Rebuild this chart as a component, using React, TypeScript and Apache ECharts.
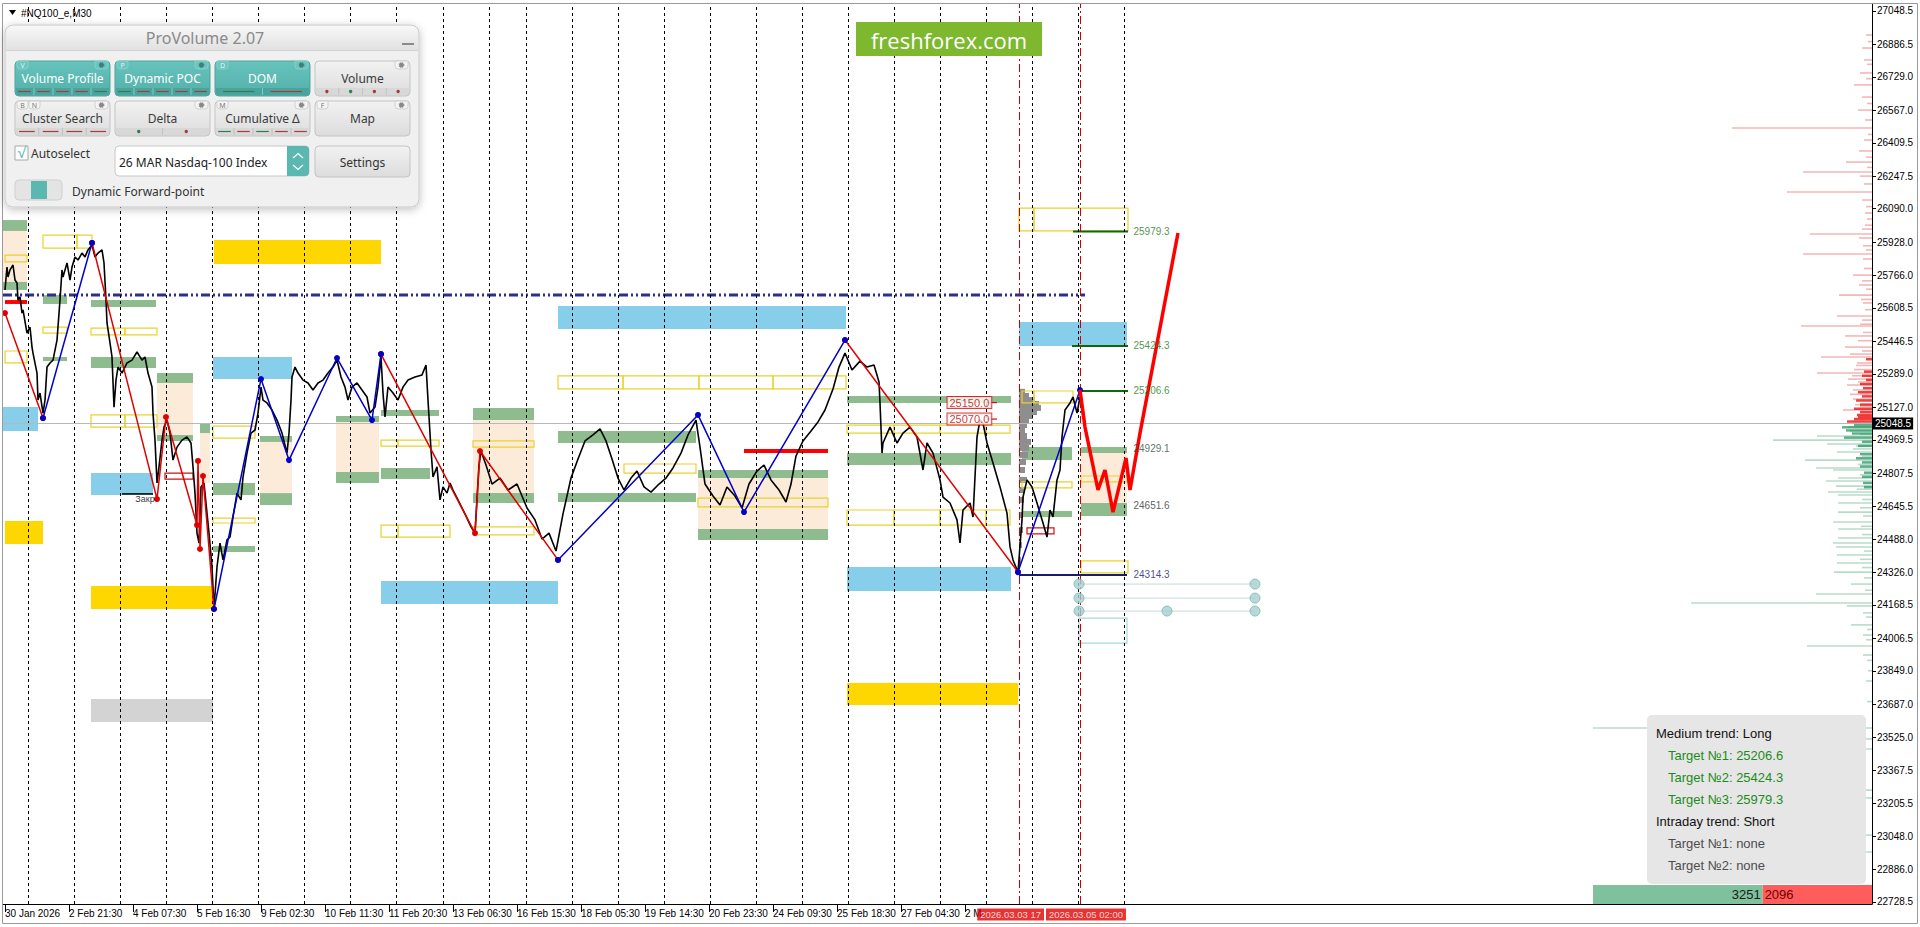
import React, { useEffect, useRef } from "react";
import * as echarts from "echarts";

// ---------- axes ----------
const X_MIN = 0;
const X_MAX = 1869;
const Y_MIN = 22718.8;
const Y_MAX = 27082.4;
const CURRENT_PRICE = 25048.5;

const priceTicks = [27048.5, 26886.5, 26729.0, 26567.0, 26409.5, 26247.5, 26090.0, 25928.0, 25766.0, 25608.5, 25446.5, 25289.0, 25127.0, 24969.5, 24807.5, 24645.5, 24488.0, 24326.0, 24168.5, 24006.5, 23849.0, 23687.0, 23525.0, 23367.5, 23205.5, 23048.0, 22886.0, 22728.5];
const timeLabelBars = [2, 66, 130, 194, 258, 322, 386, 450, 514, 578, 642, 706, 770, 834, 898, 962];
const timeLabels = ["30 Jan 2026", "2 Feb 21:30", "4 Feb 07:30", "5 Feb 16:30", "9 Feb 02:30", "10 Feb 11:30", "11 Feb 20:30", "13 Feb 06:30", "16 Feb 15:30", "18 Feb 05:30", "19 Feb 14:30", "20 Feb 23:30", "24 Feb 09:30", "25 Feb 18:30", "27 Feb 04:30", "2 M"];
const daySeparators = [25, 71, 117, 163, 209, 255, 301, 347, 393, 440, 486, 523, 569, 615, 661, 707, 753, 799, 845, 891, 937, 983, 1029, 1075, 1121];
const eventBars = [1016, 1077];
const eventLabels = ["2026.03.03 17", "2026.03.05 02:00"];

// ---------- price (M30 closes, bar index / price) ----------
const pricePath = [
  [2, 25696], [4, 25807], [5, 25759], [7, 25793], [10, 25817], [12, 25744], [14, 25730], [15, 25647], [17, 25662], [19, 25584], [20, 25599], [24, 25487], [27, 25516], [29, 25419], [30, 25390], [34, 25293], [35, 25162], [37, 25196], [40, 25099], [42, 25162], [44, 25322], [47, 25342], [50, 25356], [54, 25453], [57, 25647], [59, 25793], [60, 25759], [64, 25827], [67, 25744], [69, 25807], [72, 25856], [75, 25841], [79, 25875], [82, 25856], [85, 25890], [89, 25914], [92, 25856], [95, 25875], [99, 25890], [101, 25827], [103, 25647], [104, 25536], [107, 25439], [109, 25371], [111, 25128], [113, 25259], [115, 25322], [119, 25293], [124, 25342], [129, 25356], [134, 25395], [139, 25356], [142, 25371], [145, 25293], [149, 25225], [150, 25099], [152, 24968], [154, 24760], [156, 24838], [159, 24968], [161, 25031], [164, 25065], [167, 25002], [170, 24871], [174, 24934], [179, 24968], [184, 24983], [188, 24954], [190, 24838], [192, 24711], [194, 24517], [196, 24469], [198, 24741], [201, 24760], [204, 24614], [206, 24517], [209, 24353], [211, 24154], [214, 24353], [217, 24469], [220, 24387], [224, 24484], [227, 24498], [230, 24595], [234, 24711], [238, 24678], [240, 24789], [244, 24905], [248, 25002], [252, 25017], [255, 25099], [258, 25225], [260, 25162], [264, 25148], [269, 25114], [274, 25065], [279, 25002], [284, 24905], [286, 25002], [288, 25162], [289, 25274], [292, 25322], [295, 25293], [300, 25259], [305, 25245], [310, 25211], [315, 25245], [320, 25259], [325, 25293], [330, 25322], [334, 25356], [338, 25274], [342, 25225], [345, 25162], [349, 25225], [354, 25245], [359, 25211], [364, 25177], [367, 25099], [372, 25128], [375, 25225], [378, 25371], [380, 25196], [382, 25080], [385, 25225], [390, 25196], [395, 25162], [400, 25225], [405, 25259], [412, 25274], [419, 25284], [423, 25332], [425, 25162], [428, 24920], [430, 24789], [434, 24838], [437, 24678], [440, 24741], [444, 24711], [447, 24760],
  [450, 24726], [456, 24668], [462, 24610], [468, 24547], [472, 24517], [476, 24847], [478, 24915], [483, 24847], [489, 24755], [497, 24784], [505, 24726], [514, 24755], [524, 24639], [532, 24581], [539, 24488], [546, 24517], [553, 24430], [560, 24610], [568, 24784], [575, 24876], [582, 24964], [590, 24993], [597, 25022], [603, 24964], [609, 24876], [615, 24784], [621, 24726], [628, 24784], [634, 24818], [641, 24741], [648, 24716], [656, 24755], [663, 24784], [670, 24833], [678, 24905], [685, 24993], [693, 25065], [697, 24934], [702, 24755], [710, 24697], [717, 24653], [724, 24741], [732, 24697], [739, 24639], [746, 24755], [754, 24818], [761, 24847], [768, 24775], [776, 24726], [783, 24668], [788, 24755], [793, 24891], [800, 24964], [808, 25012], [815, 25056], [822, 25114], [830, 25216], [836, 25322], [842, 25390], [849, 25308], [857, 25351], [864, 25322], [871, 25332], [876, 25250],
  [877, 25148], [879, 24905], [880, 24954], [887, 25031], [894, 24954], [900, 25002], [907, 25031], [914, 24983], [920, 24823], [924, 24954], [930, 24905], [937, 24775], [940, 24692], [947, 24663], [954, 24581], [957, 24469], [960, 24629], [967, 24663], [970, 24595], [974, 24983], [977, 25065], [980, 25051], [984, 24954], [990, 24857], [997, 24741], [1004, 24614], [1007, 24450], [1010, 24387], [1015, 24328], [1019, 24581], [1020, 24692], [1024, 24775], [1029, 24741], [1034, 24663], [1037, 24614], [1040, 24566], [1044, 24498], [1047, 24629], [1050, 24595], [1054, 24775], [1057, 24823], [1059, 24983], [1062, 25114], [1067, 25148], [1070, 25177], [1074, 25099], [1077, 25177], [1080, 25080], [1082, 25048]
];

// ---------- zigzag runs ----------
const zigzagRed = [
  [[2, 25584], [40, 25075]],
  [[89, 25924], [154, 24682], [163, 25080], [194, 24556], [195, 24867], [197, 24440], [200, 24794], [211, 24149]],
  [[378, 25385], [472, 24517], [477, 24915], [555, 24387]],
  [[842, 25453], [1015, 24328]],
];
const zigzagBlue = [
  [[40, 25075], [89, 25924]],
  [[211, 24149], [258, 25264], [286, 24871], [334, 25366], [369, 25065], [378, 25385]],
  [[555, 24387], [695, 25090], [741, 24619], [842, 25453]],
  [[1015, 24328], [1077, 25211]],
];
const forecastPath = [[1077, 25211], [1082, 25031], [1095, 24726], [1102, 24823], [1110, 24619], [1123, 24881], [1127, 24726], [1137, 25002], [1175, 25972]];

// ---------- zones [barStart, barEnd, priceTop, priceBottom] ----------
const goldZones = [[211, 378, 25938, 25822], [2, 40, 24576, 24464], [88, 210, 24261, 24149], [844, 1015, 23790, 23684]];
const grayZones = [[88, 210, 23713, 23601]];
const blueZones = [[0, 35, 25128, 25012], [88, 150, 24808, 24702], [210, 289, 25371, 25264], [378, 555, 24285, 24173], [555, 843, 25618, 25507], [844, 1008, 24353, 24236], [1016, 1124, 25541, 25424]];
const greenZones = [
  [0, 24, 26035, 25982], [0, 24, 25735, 25696], [40, 64, 25671, 25628], [40, 64, 25371, 25351], [88, 153, 25647, 25613], [88, 153, 25371, 25318],
  [154, 190, 25293, 25245], [154, 190, 24993, 24964], [197, 207, 25051, 25002], [210, 252, 24760, 24702], [210, 252, 24455, 24425],
  [257, 289, 24988, 24959], [257, 289, 24711, 24653], [333, 376, 25085, 25056], [333, 376, 24813, 24760], [378, 436, 25114, 25085], [378, 427, 24833, 24779],
  [470, 531, 25124, 25065], [470, 531, 24711, 24663], [555, 693, 25012, 24954], [555, 693, 24711, 24668], [695, 825, 24823, 24784], [695, 825, 24537, 24484],
  [844, 1008, 25182, 25148], [844, 1008, 24905, 24847], [1019, 1069, 24934, 24871], [1019, 1069, 24624, 24595], [1078, 1124, 24934, 24905], [1078, 1124, 24663, 24600]
];
const peachZones = [[0, 24, 25982, 25735], [154, 190, 25245, 24993], [197, 207, 25002, 24760], [257, 289, 24959, 24711], [333, 376, 25056, 24813], [470, 531, 25065, 24711], [695, 825, 24784, 24537], [1078, 1124, 24905, 24663]];
const yellowBoxes = [
  [40, 74, 25962, 25899], [74, 89, 25962, 25899], [2, 24, 25865, 25832], [40, 64, 25516, 25487], [2, 24, 25400, 25342],
  [88, 122, 25511, 25478], [122, 154, 25511, 25478], [88, 122, 25090, 25031], [122, 154, 25090, 25031],
  [210, 252, 25036, 24978], [210, 252, 24590, 24566], [378, 395, 24968, 24939], [395, 436, 24968, 24939], [378, 395, 24556, 24498], [395, 447, 24556, 24498],
  [470, 531, 24964, 24934], [470, 531, 24547, 24508],
  [555, 620, 25279, 25216], [620, 696, 25279, 25216], [696, 770, 25279, 25216], [770, 843, 25279, 25216],
  [621, 693, 24852, 24808], [695, 825, 24687, 24644],
  [844, 891, 25041, 25002], [891, 937, 25041, 25002], [937, 983, 25041, 25002], [983, 1007, 25041, 25002],
  [844, 891, 24629, 24556], [891, 937, 24629, 24556], [937, 983, 24629, 24556], [983, 1007, 24629, 24556],
  [1019, 1031, 25206, 25148], [1031, 1070, 25206, 25148], [1019, 1069, 24765, 24736], [1078, 1124, 24794, 24765], [1078, 1125, 24382, 24324],
  [1016, 1031, 26093, 25982], [1031, 1125, 26093, 25982]
];
const redBars = [[2, 24, 25647, 25628], [741, 825, 24925, 24905]];
const redBoxes = [[1024, 1051, 24542, 24513], [162, 190, 24808, 24779]];
const tealBoxes = [[1076, 1124, 24105, 23984]];

// ---------- levels ----------
const keyLevel = 25671;
const keyLevelBars = [0, 1082];
const mediumTargets = [25206.6, 25424.3, 25979.3];
const targetStartBars = [1077, 1069, 1070];
const targetEndBar = 1125;
const extraLevels = [24929.1, 24651.6];
const supportLevel = 24314.3;
const supportBars = [1016, 1124];
const markedPrices = [25150.0, 25070.0];
const closeLevel = 24707;
const projectionRows = [24270, 24202, 24139];
const projectionBars = [1076, 1252];
const projectionCircles = [[1076, 24270], [1076, 24202], [1076, 24139], [1164, 24139], [1252, 24270], [1252, 24202], [1252, 24139]];

// ---------- volume profiles [length in bars, price] ----------
const profileSell = [
  [6, 26932], [4, 26900], [10, 26869], [8, 26811], [5, 26790], [12, 26748], [6, 26720], [18, 26690], [10, 26631], [5, 26600], [14, 26568], [7, 26520], [140, 26481], [4, 26450],
  [8, 26423], [13, 26370], [6, 26340], [26, 26316], [5, 26290], [69, 26268], [12, 26248], [8, 26210], [85, 26171], [10, 26132], [6, 26100], [7, 26069], [5, 26040], [7, 26010],
  [10, 25991], [62, 25967], [13, 25948], [9, 25910], [6, 25890], [69, 25870], [9, 25846], [8, 25800], [19, 25768], [10, 25740], [13, 25720], [6, 25700], [33, 25671], [11, 25650],
  [9, 25633], [7, 25600], [35, 25570], [10, 25550], [12, 25530], [71, 25521], [9, 25490], [27, 25473], [14, 25450], [27, 25419], [10, 25400], [22, 25385], [51, 25371], [15, 25342],
  [16, 25330], [18, 25310], [55, 25293], [20, 25280], [24, 25264], [14, 25250], [25, 25235], [19, 25211], [22, 25190], [19, 25167], [17, 25140], [12, 25130], [29, 25114]
];
const profileSellDense = [[6, 25360], [8, 25300], [10, 25280], [6, 25260], [12, 25240], [9, 25220], [14, 25200], [10, 25180], [16, 25160], [12, 25140], [18, 25120], [12, 25104], [15, 25090], [14, 25080], [18, 25070], [25, 25058]];
const profileBuy = [
  [24, 25031], [22, 25012], [12, 24997], [55, 24988], [99, 24968], [45, 24949], [16, 24940], [19, 24925], [35, 24910], [10, 24890], [67, 24871], [14, 24850], [56, 24833], [39, 24823],
  [12, 24800], [34, 24784], [46, 24770], [36, 24745], [15, 24730], [44, 24716], [34, 24702], [10, 24680], [34, 24663], [12, 24640], [34, 24619], [9, 24600], [39, 24571], [11, 24550],
  [34, 24537], [10, 24510], [34, 24493], [39, 24469], [36, 24450], [8, 24430], [35, 24411], [12, 24390], [35, 24372], [10, 24350], [38, 24328], [8, 24300], [21, 24270], [7, 24240],
  [56, 24222], [181, 24178], [25, 24164], [9, 24130], [6, 24110], [21, 24072], [5, 24050], [9, 24023], [6, 24000], [65, 23970], [9, 23926], [5, 23900], [4, 23850], [6, 23800],
  [5, 23700], [279, 23572], [27, 23519], [34, 23470], [33, 23271], [10, 23233], [9, 23053], [35, 22971]
];
const profileBuyDense = [[18, 25040], [30, 25030], [26, 25015], [20, 25000], [28, 24980], [10, 24960], [14, 24940], [12, 24900], [16, 24880], [10, 24860], [12, 24840], [8, 24810], [10, 24790], [9, 24760], [8, 24740]];
const sessionBar = 1016;
const sessionProfile = [[6, 25202], [10, 25182], [16, 25162], [20, 25143], [22, 25124], [18, 25104], [14, 25085], [10, 25065], [8, 25041], [6, 25017], [8, 24988], [12, 24959], [10, 24930], [9, 24896], [7, 24862], [6, 24823], [8, 24775], [6, 24726], [5, 24678], [4, 24605], [4, 24532], [3, 24459], [2, 24387]];

const buyVolume = 3251;
const sellVolume = 2096;

// ---------- helpers ----------
const FONT = '"Liberation Sans", Arial, sans-serif';
const UI = '"Noto Sans", "Open Sans", sans-serif';

function zoneSeries(data: number[][], style: any, z: number) {
  return {
    type: "custom", silent: true, z, data, encode: { x: [0, 1], y: [2, 3] },
    renderItem: (_p: any, api: any) => {
      const a = api.coord([api.value(0), api.value(2)]);
      const b = api.coord([api.value(1), api.value(3)]);
      return { type: "rect", shape: { x: a[0], y: a[1], width: b[0] - a[0], height: b[1] - a[1] }, style };
    },
  };
}
function profileSeries(data: number[][], color: string, h: number, anchor: number, dir: number) {
  return {
    type: "custom", silent: true, z: 2, data, encode: { x: 0, y: 1 },
    renderItem: (_p: any, api: any) => {
      const len = api.value(0), p = api.value(1);
      const a = api.coord([anchor, p]);
      const b = api.coord([anchor + dir * len, p]);
      const x = Math.min(a[0], b[0]);
      return { type: "rect", shape: { x, y: a[1] - h / 2, width: Math.abs(b[0] - a[0]), height: h }, style: { fill: color } };
    },
  };
}
function hline(x0: number, x1: number, p: number, color: string, width: number, type: any = "solid", z = 4) {
  return { type: "line", silent: true, z, symbol: "none", data: [[x0, p], [x1, p]], lineStyle: { color, width, type, cap: "butt" } };
}

// ---------- panel graphics ----------
const TEAL = "#5BB8B1";
const panelButtons = [
  { text: "Volume Profile", x: 15, y: 61, on: true, tabs: ["V"], kind: "dash", marks: ["r", "r", "r", "r", "g"] },
  { text: "Dynamic POC", x: 115, y: 61, on: true, tabs: ["P"], kind: "dash", marks: ["g", "r", "r", "r", "r"] },
  { text: "DOM", x: 215, y: 61, on: true, tabs: ["D"], kind: "long", marks: ["g", "r"] },
  { text: "Volume", x: 315, y: 61, on: false, tabs: [], kind: "dot", marks: ["r", "g", "r", "r"] },
  { text: "Cluster Search", x: 15, y: 101, on: false, tabs: ["B", "N"], kind: "dash", marks: ["r", "r", "r", "r"] },
  { text: "Delta", x: 115, y: 101, on: false, tabs: [], kind: "dot", marks: ["g", "r"] },
  { text: "Cumulative \u0394", x: 215, y: 101, on: false, tabs: ["M"], kind: "dash", marks: ["g", "r", "g", "r", "r"] },
  { text: "Map", x: 315, y: 101, on: false, tabs: ["F"], kind: "none", marks: [] },
];

function grad(c1: string, c2: string) {
  return { type: "linear", x: 0, y: 0, x2: 0, y2: 1, colorStops: [{ offset: 0, color: c1 }, { offset: 1, color: c2 }] };
}

function buildGraphics() {
  const g: any[] = [];
  const Z = 100;
  g.push({ type: "rect", silent: true, z: 50, shape: { x: 2.5, y: 3.5, width: 1915, height: 920 }, style: { fill: "none", stroke: "#9A9A9A", lineWidth: 1 } });
  g.push({ type: "polygon", z: 50, shape: { points: [[9, 10], [16, 10], [12.5, 15]] }, style: { fill: "#000" } });
  g.push({ type: "text", z: 50, x: 21, y: 13, style: { text: "#NQ100_e,M30", fill: "#000", font: `10px ${FONT}`, verticalAlign: "middle" } });

  g.push({ type: "rect", z: Z, shape: { x: 5, y: 25, width: 414, height: 182, r: 8 }, style: { fill: "#F0F0F0", stroke: "#CACACA", lineWidth: 1, shadowBlur: 8, shadowColor: "rgba(0,0,0,0.25)", shadowOffsetY: 2 } });
  g.push({ type: "rect", z: Z, shape: { x: 6, y: 26, width: 412, height: 24, r: [7, 7, 0, 0] }, style: { fill: grad("#F7F7F7", "#E1E1E1") } });
  g.push({ type: "line", z: Z, shape: { x1: 6, y1: 50.5, x2: 418, y2: 50.5 }, style: { stroke: "#D2D2D2", lineWidth: 1 } });
  g.push({ type: "text", z: Z + 1, x: 205, y: 38, style: { text: "ProVolume 2.07", fill: "#8A8A8A", font: `16px ${UI}`, align: "center", verticalAlign: "middle" } });
  g.push({ type: "line", z: Z + 1, shape: { x1: 402, y1: 44, x2: 414, y2: 44 }, style: { stroke: "#8A8A8A", lineWidth: 2 } });

  panelButtons.forEach((b) => {
    const W = 95, H = 35;
    g.push({ type: "rect", z: Z + 1, shape: { x: b.x, y: b.y, width: W, height: H, r: 4 }, style: { fill: b.on ? grad("#67C3BC", "#52B0AA") : grad("#F2F2F2", "#DCDCDC"), stroke: b.on ? "#4EA49E" : "#C4C4C4", lineWidth: 1 } });
    if (b.kind !== "none") {
      g.push({ type: "rect", z: Z + 2, shape: { x: b.x + 1, y: b.y + 27, width: W - 2, height: 7, r: [0, 0, 3, 3] }, style: { fill: b.on ? "#4BA39D" : "#D8D8D8" } });
      const n = b.marks.length, cw = W / n;
      b.marks.forEach((m: string, i: number) => {
        const cx = b.x + cw * (i + 0.5), cy = b.y + 30.5;
        const col = m === "g" ? "#2D7F50" : "#A43C3C";
        if (i > 0) g.push({ type: "line", z: Z + 3, shape: { x1: b.x + cw * i, y1: b.y + 27, x2: b.x + cw * i, y2: b.y + 34 }, style: { stroke: b.on ? "#7DCCC6" : "#C2C2C2", lineWidth: 1 } });
        if (b.kind === "dot") g.push({ type: "circle", z: Z + 3, shape: { cx, cy, r: 1.7 }, style: { fill: col } });
        else g.push({ type: "line", z: Z + 3, shape: { x1: cx - cw * 0.33, y1: cy, x2: cx + cw * 0.33, y2: cy }, style: { stroke: col, lineWidth: 1.2 } });
      });
    }
    b.tabs.forEach((t: string, i: number) => {
      g.push({ type: "rect", z: Z + 2, shape: { x: b.x + 2 + i * 12, y: b.y, width: 11, height: 8, r: [0, 0, 3, 3] }, style: { fill: b.on ? "#6CC6BF" : "#F4F4F4", stroke: b.on ? "#8AD3CD" : "#C8C8C8", lineWidth: 0.8 } });
      g.push({ type: "text", z: Z + 3, x: b.x + 7.5 + i * 12, y: b.y + 4.5, style: { text: t, fill: b.on ? "#DFF3F1" : "#7A7A7A", font: `7px ${UI}`, align: "center", verticalAlign: "middle" } });
    });
    g.push({ type: "rect", z: Z + 2, shape: { x: b.x + W - 15, y: b.y, width: 13, height: 8, r: [0, 0, 3, 3] }, style: { fill: b.on ? "#6CC6BF" : "#F4F4F4", stroke: b.on ? "#8AD3CD" : "#C8C8C8", lineWidth: 0.8 } });
    g.push({ type: "circle", z: Z + 3, shape: { cx: b.x + W - 8.5, cy: b.y + 4, r: 2.3 }, style: { fill: b.on ? "#3E7F7A" : "#888", stroke: b.on ? "#3E7F7A" : "#888", lineWidth: 1.2, lineDash: [1, 0.8] } });
    g.push({ type: "text", z: Z + 3, x: b.x + W / 2, y: b.y + 17.5, style: { text: b.text, fill: b.on ? "#FFFFFF" : "#3A3A3A", font: `12px ${UI}`, align: "center", verticalAlign: "middle" } });
  });

  g.push({ type: "rect", z: Z + 1, shape: { x: 15, y: 146, width: 13, height: 14 }, style: { fill: "#FFFFFF", stroke: "#A8A8A8", lineWidth: 1 } });
  g.push({ type: "text", z: Z + 2, x: 21.5, y: 152, style: { text: "\u221A", fill: TEAL, font: `15px ${UI}`, align: "center", verticalAlign: "middle" } });
  g.push({ type: "text", z: Z + 2, x: 31, y: 153, style: { text: "Autoselect", fill: "#333", font: `12px ${UI}`, verticalAlign: "middle" } });
  g.push({ type: "rect", z: Z + 1, shape: { x: 115, y: 146, width: 194, height: 30, r: 4 }, style: { fill: "#FFFFFF", stroke: "#C8C8C8", lineWidth: 1 } });
  g.push({ type: "rect", z: Z + 2, shape: { x: 287, y: 146, width: 22, height: 30, r: [0, 4, 4, 0] }, style: { fill: TEAL } });
  g.push({ type: "polyline", z: Z + 3, shape: { points: [[293, 158], [298, 153.5], [303, 158]] }, style: { stroke: "#FFFFFF", lineWidth: 1.2, fill: "none" } });
  g.push({ type: "polyline", z: Z + 3, shape: { points: [[293, 165], [298, 169.5], [303, 165]] }, style: { stroke: "#FFFFFF", lineWidth: 1.2, fill: "none" } });
  g.push({ type: "text", z: Z + 2, x: 119, y: 162, style: { text: "26 MAR Nasdaq-100 Index", fill: "#222", font: `12px ${UI}`, verticalAlign: "middle" } });
  g.push({ type: "rect", z: Z + 1, shape: { x: 315, y: 146, width: 95, height: 31, r: 4 }, style: { fill: grad("#F2F2F2", "#DCDCDC"), stroke: "#C4C4C4", lineWidth: 1 } });
  g.push({ type: "text", z: Z + 2, x: 362.5, y: 162, style: { text: "Settings", fill: "#333", font: `12px ${UI}`, align: "center", verticalAlign: "middle" } });
  g.push({ type: "rect", z: Z + 1, shape: { x: 15, y: 180, width: 47, height: 20, r: 4 }, style: { fill: "#E4E4E4", stroke: "#CFCFCF", lineWidth: 1 } });
  g.push({ type: "rect", z: Z + 2, shape: { x: 31, y: 181, width: 16, height: 18 }, style: { fill: TEAL } });
  g.push({ type: "text", z: Z + 2, x: 72, y: 191, style: { text: "Dynamic Forward-point", fill: "#333", font: `12px ${UI}`, verticalAlign: "middle" } });

  g.push({ type: "rect", z: 60, shape: { x: 856, y: 22, width: 186, height: 34 }, style: { fill: "#7DB82F" } });
  g.push({ type: "text", z: 61, x: 949, y: 39.5, style: { text: "freshforex.com", fill: "#FFFFFF", font: `22px "Open Sans", sans-serif`, align: "center", verticalAlign: "middle" } });

  g.push({ type: "rect", z: 60, shape: { x: 1647, y: 715, width: 219, height: 169, r: 5 }, style: { fill: "#E6E6E6" } });
  const info = [
    { t: "Medium trend: Long", c: "#111111", x: 1656 },
    { t: `Target \u21161: ${mediumTargets[0].toFixed(1)}`, c: "#1E8A1E", x: 1668 },
    { t: `Target \u21162: ${mediumTargets[1].toFixed(1)}`, c: "#1E8A1E", x: 1668 },
    { t: `Target \u21163: ${mediumTargets[2].toFixed(1)}`, c: "#1E8A1E", x: 1668 },
    { t: "Intraday trend: Short", c: "#111111", x: 1656 },
    { t: "Target \u21161: none", c: "#4D4D4D", x: 1668 },
    { t: "Target \u21162: none", c: "#4D4D4D", x: 1668 },
  ];
  info.forEach((r, i) => {
    g.push({ type: "text", z: 61, x: r.x, y: 733.5 + i * 22, style: { text: r.t, fill: r.c, font: `13px ${FONT}`, verticalAlign: "middle" } });
  });
  const total = buyVolume + sellVolume;
  const barW = 279, bx = 1593;
  const gw = (barW * buyVolume) / total;
  g.push({ type: "rect", z: 60, shape: { x: bx, y: 885, width: gw, height: 19 }, style: { fill: "#7EC19C" } });
  g.push({ type: "rect", z: 60, shape: { x: bx + gw, y: 885, width: barW - gw, height: 19 }, style: { fill: "#FF5C5C" } });
  g.push({ type: "text", z: 61, x: bx + gw - 2, y: 894.5, style: { text: String(buyVolume), fill: "#1A1A1A", font: `13px ${FONT}`, align: "right", verticalAlign: "middle" } });
  g.push({ type: "text", z: 61, x: bx + gw + 2, y: 894.5, style: { text: String(sellVolume), fill: "#6E0000", font: `13px ${FONT}`, verticalAlign: "middle" } });
  return g;
}

function buildOption() {
  const series: any[] = [];
  series.push({
    type: "line", data: [], z: 1, silent: true,
    markLine: { silent: true, symbol: ["none", "none"], label: { show: false }, lineStyle: { color: "#000", width: 1, type: [3, 3] }, data: daySeparators.map((b) => ({ xAxis: b })) },
  });
  series.push(zoneSeries(peachZones, { fill: "#FCEBD8" }, 2));
  series.push(zoneSeries(goldZones, { fill: "#FFD700" }, 2));
  series.push(zoneSeries(grayZones, { fill: "#D3D3D3" }, 2));
  series.push(zoneSeries(blueZones, { fill: "#87CEEB" }, 2));
  series.push(zoneSeries(greenZones, { fill: "#8FBC8F" }, 2));
  series.push(zoneSeries(redBars, { fill: "#FF0000" }, 3));
  series.push(zoneSeries(yellowBoxes, { fill: "none", stroke: "#E8D22E", lineWidth: 1.2 }, 3));
  series.push(zoneSeries(redBoxes, { fill: "none", stroke: "#D01010", lineWidth: 1.2 }, 3));
  series.push(zoneSeries(tealBoxes, { fill: "none", stroke: "#A8D8D8", lineWidth: 1.2 }, 3));
  series.push(profileSeries(profileSell, "rgba(226,96,96,0.45)", 1.6, X_MAX, -1));
  series.push(profileSeries(profileSellDense, "rgba(240,30,30,0.85)", 2.5, X_MAX, -1));
  series.push(profileSeries(profileBuy, "rgba(70,160,118,0.38)", 1.6, X_MAX, -1));
  series.push(profileSeries(profileBuyDense, "rgba(40,150,100,0.75)", 2.5, X_MAX, -1));
  series.push(profileSeries(sessionProfile, "#8E8E8E", 6, sessionBar, 1));
  series.push({
    type: "line", data: [], z: 3, silent: true,
    markLine: { silent: true, symbol: ["none", "none"], label: { show: false }, lineStyle: { color: "#CC0000", width: 1, type: [8, 3, 2, 3] }, data: eventBars.map((b) => ({ xAxis: b })) },
  });
  series.push(hline(keyLevelBars[0], keyLevelBars[1], keyLevel, "#2B2F8F", 3, [9, 3, 2, 3, 2, 3], 4));
  mediumTargets.forEach((t, i) => series.push(hline(targetStartBars[i], targetEndBar, t, "#0B6B0B", 2)));
  series.push(hline(supportBars[0], supportBars[1], supportLevel, "#1A1A6E", 2));
  projectionRows.forEach((p) => series.push(hline(projectionBars[0], projectionBars[1], p, "#C9D9D9", 1)));
  markedPrices.forEach((p) => series.push(hline(984, 994, p, "#D01010", 1.2)));
  series.push(hline(119, 150, closeLevel, "#000", 1.5));
  series.push({
    type: "line", data: pricePath, z: 5, showSymbol: false, symbol: "none", silent: true,
    lineStyle: { color: "#000", width: 1.6 },
    markLine: {
      silent: true, symbol: ["none", "none"],
      lineStyle: { color: "#B8B8B8", width: 1, type: "solid" },
      label: { show: true, position: "end", distance: 1, formatter: CURRENT_PRICE.toFixed(1), backgroundColor: "#000", color: "#fff", padding: [1, 2, 1, 2], fontSize: 10, fontFamily: FONT },
      data: [{ yAxis: CURRENT_PRICE }],
    },
  });
  zigzagRed.forEach((run) => series.push({ type: "line", data: run, z: 6, silent: true, symbol: "circle", symbolSize: 6, itemStyle: { color: "#E00000" }, lineStyle: { color: "#E00000", width: 1.5 } }));
  zigzagBlue.forEach((run) => series.push({ type: "line", data: run, z: 6, silent: true, symbol: "circle", symbolSize: 6, itemStyle: { color: "#0000CC" }, lineStyle: { color: "#0000CC", width: 1.5 } }));
  series.push({ type: "line", data: forecastPath, z: 7, silent: true, symbol: "none", lineStyle: { color: "#FF0000", width: 3.5 } });
  series.push({ type: "scatter", data: projectionCircles, z: 7, silent: true, symbol: "circle", symbolSize: 10, itemStyle: { color: "#A5CFCF", borderColor: "#7FB3B3", borderWidth: 1 } });
  const lbl = (c: string) => ({ color: c });
  series.push({
    type: "scatter", z: 8, silent: true, symbolSize: 1, itemStyle: { color: "rgba(0,0,0,0)" },
    label: { show: true, position: "right", distance: 2, fontSize: 10, fontFamily: FONT, formatter: (p: any) => p.value[1].toFixed(1) },
    data: [
      ...mediumTargets.map((t) => ({ value: [1128, t], label: lbl("#1B7A1B") })),
      { value: [1128, extraLevels[0]], label: lbl("#2F4F3F") },
      { value: [1128, extraLevels[1]], label: lbl("#333333") },
      { value: [1128, supportLevel], label: lbl("#1A1A6E") },
    ],
  });
  series.push({
    type: "scatter", z: 8, silent: true, symbolSize: 1, itemStyle: { color: "rgba(0,0,0,0)" },
    label: { show: true, position: "right", distance: 1, fontSize: 11, fontFamily: FONT, color: "#C00000", backgroundColor: "#FFFFFF", borderColor: "#D01010", borderWidth: 1, padding: [0, 2, 0, 2], formatter: (p: any) => p.value[1].toFixed(1) },
    data: markedPrices.map((p) => [943, p]),
  });
  series.push({
    type: "scatter", z: 8, silent: true, symbolSize: 1, itemStyle: { color: "rgba(0,0,0,0)" },
    label: { show: true, position: "inside", fontSize: 9, fontFamily: FONT, color: "#000", formatter: "\u0417\u0430\u043a\u0440" },
    data: [[142, closeLevel - 25]],
  });
  series.push({
    type: "scatter", z: 9, silent: true, symbolSize: 1, itemStyle: { color: "rgba(0,0,0,0)" },
    label: { show: true, position: "bottom", distance: 4, fontSize: 9.5, fontFamily: FONT, color: "#FFFFFF", backgroundColor: "#E00000", padding: [1, 3, 1, 3], formatter: (p: any) => eventLabels[p.dataIndex] },
    data: [
      { value: [eventBars[0], Y_MIN], label: { align: "right", offset: [25, 0] } },
      { value: [eventBars[1], Y_MIN], label: { align: "left", offset: [-34, 0] } },
    ],
  });

  return {
    animation: false,
    backgroundColor: "#FFFFFF",
    grid: { left: 3, right: 48, top: 4, bottom: 23, containLabel: false },
    xAxis: {
      type: "value", min: X_MIN, max: X_MAX,
      axisLine: { show: true, onZero: false, lineStyle: { color: "#000", width: 1 } },
      axisTick: { show: true, customValues: timeLabelBars, length: 8, lineStyle: { color: "#000" } },
      axisLabel: { show: true, customValues: timeLabelBars, align: "left", margin: 4, fontSize: 10, fontFamily: FONT, color: "#000", formatter: (v: number) => { const i = timeLabelBars.indexOf(Math.round(v)); return i >= 0 ? timeLabels[i] : ""; } },
      splitLine: { show: false },
    },
    yAxis: {
      type: "value", position: "right", min: Y_MIN, max: Y_MAX,
      axisLine: { show: true, onZero: false, lineStyle: { color: "#000", width: 1 } },
      axisTick: { show: true, customValues: priceTicks, length: 4, lineStyle: { color: "#000" } },
      axisLabel: { show: true, customValues: priceTicks, margin: 5, fontSize: 10, fontFamily: FONT, color: "#000", formatter: (v: number) => v.toFixed(1) },
      splitLine: { show: false },
    },
    series,
    graphic: buildGraphics(),
  };
}

export default function App() {
  const ref = useRef<HTMLDivElement>(null);
  useEffect(() => {
    if (!ref.current) return;
    const chart = echarts.init(ref.current, undefined, { renderer: "svg" });
    chart.setOption(buildOption() as any);
    return () => chart.dispose();
  }, []);
  return <div ref={ref} style={{ position: "fixed", left: 0, top: 0, width: 1920, height: 927, background: "#fff" }} />;
}
